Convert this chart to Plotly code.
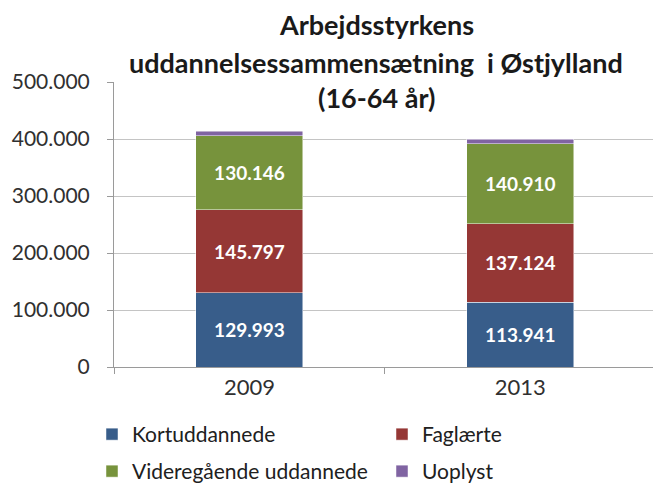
import plotly.graph_objects as go

years = ["2009", "2013"]
kortuddannede = [129993, 113941]
faglaerte = [145797, 137124]
videregaaende = [130146, 140910]
uoplyst = [8000, 8000]
series_names = ["Kortuddannede", "Faglærte", "Videregående uddannede", "Uoplyst"]
colors = ["#385D8A", "#953735", "#77933C", "#8064A2"]
title_lines = ["Arbejdsstyrkens", "uddannelsessammensætning  i Østjylland", "(16-64 år)"]
y_ticks = [0, 100000, 200000, 300000, 400000, 500000]


def fmt(v):
    return f"{v:,}".replace(",", ".")


fig = go.Figure()
all_series = [kortuddannede, faglaerte, videregaaende, uoplyst]
legend_ids = ["legend", "legend", "legend2", "legend2"]
for i, (name, vals, col) in enumerate(zip(series_names, all_series, colors)):
    show_text = i < 3
    fig.add_trace(go.Bar(
        x=years, y=vals, name=name, legend=legend_ids[i],
        marker=dict(color=col, line=dict(color="rgba(255,255,255,0.6)", width=0.8)),
        text=[fmt(v) for v in vals] if show_text else None,
        textposition="inside" if show_text else "none",
        insidetextanchor="middle",
        textfont=dict(family="Lato", size=19, color="white", weight="bold"),
        width=0.395,
        hoverinfo="skip",
    ))

W, H = 653, 484
ML, MR, MT, MB = 114, 0, 82, 117
PW, PH = W - ML - MR, H - MT - MB


def px_x(x):
    return (x - ML) / PW


def px_y(y):
    return (H - MB - y) / PH


legend_common = dict(
    orientation="h", xanchor="left", yanchor="top",
    entrywidth=245, entrywidthmode="pixels",
    font=dict(family="Lato", size=21, color="#202020"),
    traceorder="normal", itemclick=False, itemdoubleclick=False,
    bgcolor="rgba(0,0,0,0)",
)

fig.update_layout(
    barmode="stack",
    width=W, height=H,
    margin=dict(l=ML, r=MR, t=MT, b=MB, autoexpand=False),
    paper_bgcolor="white", plot_bgcolor="white",
    font=dict(family="Lato", size=18, color="#404040"),
    showlegend=True,
    legend=dict(x=px_x(92), y=px_y(414), **legend_common),
    legend2=dict(x=px_x(92), y=px_y(451), **legend_common),
    uniformtext=dict(minsize=10, mode="show"),
)

fig.update_xaxes(
    range=[-0.5, 1.49], showline=True, linecolor="#9a9a9a", linewidth=1,
    ticks="outside", tickson="boundaries", ticklen=6, tickcolor="#9a9a9a",
    ticklabelstandoff=1,
    tickfont=dict(family="Lato", size=22, color="#303030"),
    showgrid=False, fixedrange=True, automargin=False,
)
fig.update_yaxes(
    range=[0, 500000], tickvals=y_ticks, ticktext=[fmt(v) for v in y_ticks],
    showline=True, linecolor="#9a9a9a", linewidth=1,
    ticks="outside", ticklen=6, tickcolor="#9a9a9a",
    ticklabelstandoff=13,
    tickfont=dict(family="Lato", size=21, color="#303030"),
    showgrid=True, gridcolor="#c4c4c4", gridwidth=1,
    zeroline=False, fixedrange=True, automargin=False,
)

title_y = [24, 62, 98]
for line, yp in zip(title_lines, title_y):
    fig.add_annotation(
        text=f"<b>{line}</b>", xref="paper", yref="paper",
        x=px_x(376), y=px_y(yp),
        xanchor="center", yanchor="middle", showarrow=False,
        font=dict(family="Lato", size=27, color="#1a1a1a"),
        bgcolor="rgba(0,0,0,0)",
    )

fig.write_html(
    "out.html",
    config={"displayModeBar": False, "staticPlot": True},
    post_script="document.body.style.margin='0';",
)
